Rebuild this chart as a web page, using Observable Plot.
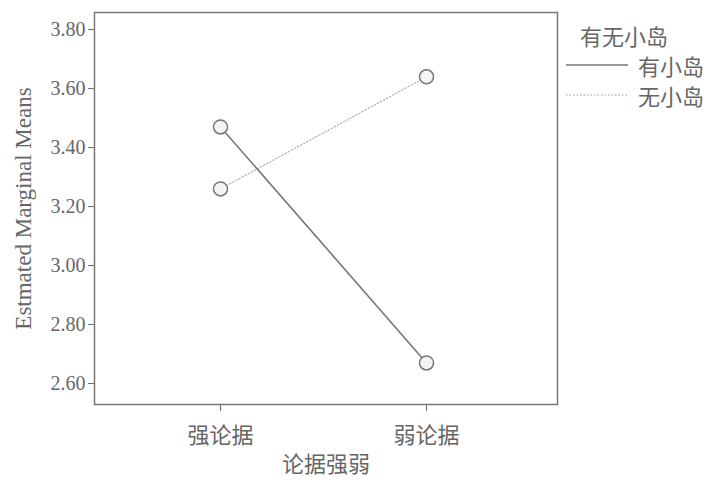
<!DOCTYPE html>
<html><head><meta charset="utf-8">
<script src="https://cdn.jsdelivr.net/npm/d3@7"></script>
<script src="https://cdn.jsdelivr.net/npm/@observablehq/plot@0.6"></script>
<style>
body{margin:0;background:#fff;}
#wrap{position:relative;width:709px;height:482px;}
#legend{position:absolute;left:566px;top:20px;font-family:"Noto Sans CJK SC";font-size:22px;color:#666;line-height:30px;}
#legend .row{display:flex;align-items:center;}
#legend svg{margin-right:10px;}
</style></head>
<body><div id="wrap"><div id="legend"></div></div>
<script>
const categories = ["强论据", "弱论据"];
const groups = ["有小岛", "无小岛"];
const withIsland = [3.47, 2.67];
const withoutIsland = [3.26, 3.64];
const yTicks = [2.6, 2.8, 3.0, 3.2, 3.4, 3.6, 3.8];
const legendTitle = "有无小岛";

const data = [];
categories.forEach((c, i) => {
  data.push({cat: c, group: groups[0], v: withIsland[i]});
  data.push({cat: c, group: groups[1], v: withoutIsland[i]});
});

const chart = Plot.plot({
  width: 709, height: 482,
  marginTop: 12, marginBottom: 78, marginLeft: 94, marginRight: 152,
  style: {color: "#666", fontFamily: "Liberation Serif", fontSize: "20px", background: "#fff"},
  x: {type: "point", domain: categories, range: [220, 426], padding: 0, label: "论据强弱", labelAnchor: "center", labelOffset: 67, tickSize: 7, tickPadding: 16},
  y: {domain: [2.529, 3.858], ticks: yTicks, tickFormat: d3.format(".2f"), label: "Estmated Marginal Means", labelArrow: "none", labelAnchor: "center", labelOffset: 80, tickSize: 6, tickPadding: 3},
  marks: [
    Plot.frame({stroke: "#777", strokeWidth: 1.5}),
    Plot.line(data.filter(d => d.group === groups[1]), {x: "cat", y: "v", stroke: "#999", strokeWidth: 1, strokeDasharray: "1.5,2"}),
    Plot.line(data.filter(d => d.group === groups[0]), {x: "cat", y: "v", stroke: "#777", strokeWidth: 1.6}),
    Plot.dot(data, {x: "cat", y: "v", r: 7, stroke: "#777", strokeWidth: 1.5, fill: "#f4f4f4"})
  ]
});
document.getElementById("wrap").prepend(chart);

const svg = d3.select(chart);
svg.selectAll("[aria-label='x-axis tick label'] text, [aria-label='x-axis label'] text, [aria-label='x-axis label']").style("font-family", "Noto Sans CJK SC").style("font-size", "22px");
svg.selectAll("[aria-label='y-axis label'] text, [aria-label='y-axis label']").style("font-size", "23px");

const leg = d3.select("#legend");
leg.append("div").style("margin-left", "14px").text(legendTitle);
[["有小岛", "#777", null, 1.6], ["无小岛", "#999", "1.5,2", 1]].forEach(([name, c, dash, w]) => {
  const row = leg.append("div").attr("class", "row");
  const s = row.append("svg").attr("width", 62).attr("height", 10);
  const l = s.append("line").attr("x1", 0).attr("x2", 62).attr("y1", 5).attr("y2", 5).attr("stroke", c).attr("stroke-width", w);
  if (dash) l.attr("stroke-dasharray", dash);
  row.append("span").text(name);
});
</script></body></html>
